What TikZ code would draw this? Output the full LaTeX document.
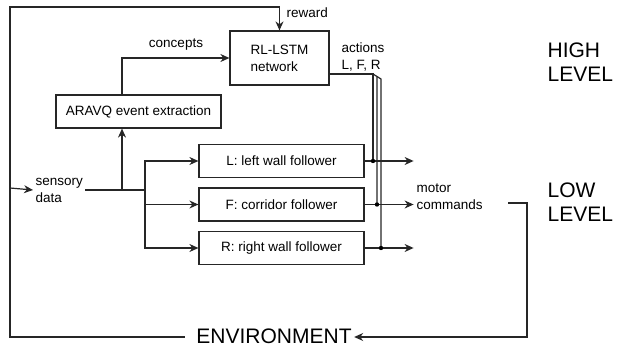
\documentclass[tikz,border=0pt]{standalone}
\usepackage{fontspec}
\setmainfont{Liberation Sans}
\usepackage{tikz}
\usetikzlibrary{arrows.meta}

\begin{document}
\begin{tikzpicture}[x=1pt, y=-1pt, >={Stealth[length=9pt,width=8pt]},
    line width=1.2pt, draw=black!85,
    lbl/.style={font=\fontsize{13.5}{17}\selectfont, align=left, inner sep=2pt},
    big/.style={font=\fontsize{21}{24}\selectfont, align=left, inner sep=2pt},
    box/.style={draw, lbl, minimum width=165pt, minimum height=33pt, inner sep=0pt}]
    \useasboundingbox (0,0) rectangle (626,347);
    % high level
    \node[box, minimum width=99pt, minimum height=54pt] (rl) at (279.5,58) {RL-LSTM\\network};
    \node[box] (aravq) at (138.5,111.5) {ARAVQ event extraction};
    % low level behaviours
    \node[box] (lwf) at (281.5,161) {L: left wall follower};
    \node[box] (fcf) at (281.5,204.5) {F: corridor follower};
    \node[box] (rwf) at (281.5,248) {R: right wall follower};
    % texts
    \node[lbl, anchor=west] (sens) at (33,190) {sensory\\data};
    \node[lbl, anchor=west] (rew) at (284,13) {reward};
    \node[lbl] (conc) at (176,45) {concepts};
    \node[lbl, anchor=north west] (act) at (339,40) {actions\\L, F, R};
    \node[lbl, anchor=west] (mot) at (414,197) {motor\\commands};
    \node[big, anchor=west] (high) at (545,62) {HIGH\\LEVEL};
    \node[big, anchor=west] (low) at (545,202) {LOW\\LEVEL};
    \node[big, anchor=base] (env) at (274,343.5) {ENVIRONMENT};
    % corners and junctions
    \coordinate (cT) at (10,7);
    \coordinate (cL) at (10,337);
    \coordinate (cR) at (527,337);
    \coordinate (mo) at (508,203);
    \coordinate (up) at (122,190);
    \coordinate (fork) at (145,190);
    \coordinate (k1) at (373,74);
    \coordinate (k2) at (377,76.5);
    \coordinate (k3) at (381,79);
    \coordinate (jL) at (373,161);
    \coordinate (jF) at (377,204.5);
    \coordinate (jR) at (381,248);
    % loop through the environment
    \draw[->] ([xshift=-9pt]cL -| env.west) -- (cL) -- (cT) -| (rl.north);
    \draw[->] (cL |- 0,188) -- (sens.west);
    \draw[->] (mo) -| (cR) -- (cR -| env.east);
    % sensory data
    \draw (sens.east) -- (fork);
    \draw[->] (up) -- (up |- aravq.south);
    \draw[->] (up |- aravq.north) |- (rl.west);
    \draw[->] (fork) |- (lwf.west);
    \draw[->] (fork) -- (fcf.west -| fork) -- (fcf.west);
    \draw[->] (fork) |- (rwf.west);
    % actions
    \draw ([yshift=-16pt]rl.east) -- (k1) -- (jL);
    \draw (k1) -- (k2) -- (jF);
    \draw (k2) -- (k3) -- (jR);
    \draw[->] (lwf.east) -- ++(49,0);
    \draw[->] (fcf.east) -- ++(49,0);
    \draw[->] (rwf.east) -- ++(49,0);
    \foreach \j in {jL,jF,jR}
      \fill (\j) circle (2.2pt);
\end{tikzpicture}
\end{document}
